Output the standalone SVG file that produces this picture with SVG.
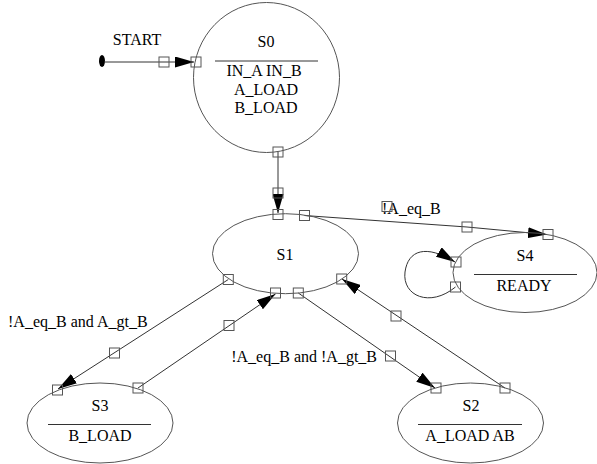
<svg xmlns="http://www.w3.org/2000/svg" width="597" height="464" viewBox="0 0 597 464">
<style>
  .st { fill: none; stroke: #555; stroke-width: 1; }
  .sep { stroke: #333; stroke-width: 1; }
  text { font-family: 'Liberation Serif', 'Times New Roman', 'DejaVu Serif', serif; font-size: 16px; fill: #000; }
  .c { text-anchor: middle; }
  .e { fill: none; stroke: #333; stroke-width: 1; }
  .h { fill: none; stroke: #555; stroke-width: 1; }
</style>
<defs>
  <marker id="arr" viewBox="0 0 19 11" refX="19" refY="5.5" markerWidth="19" markerHeight="11" markerUnits="userSpaceOnUse" orient="auto">
    <path d="M0,0 L19,5.5 L0,11 z" fill="#000"/>
  </marker>
</defs>
<rect width="597" height="464" fill="#fff"/>

<g id="connectors" font-family="Liberation Serif, serif" font-size="16">
  <ellipse cx="102" cy="61" rx="3" ry="6" fill="#000"/>
  <line class="e" x1="104" y1="62" x2="194" y2="62" marker-end="url(#arr)"/>
  <line class="e" x1="278" y1="152" x2="278" y2="213" marker-end="url(#arr)"/>
  <polyline class="e" points="304.5,215.5 467,227 547,234.5" marker-end="url(#arr)"/>
  <path class="e" d="M455.5,287 C430,308 402,296 405,272 C408,250 426,244 455,262" marker-end="url(#arr)"/>
  <line class="e" x1="228.3" y1="279.5" x2="58" y2="389" marker-end="url(#arr)"/>
  <line class="e" x1="138" y1="388" x2="275.5" y2="294" marker-end="url(#arr)"/>
  <line class="e" x1="298.3" y1="293" x2="435" y2="388" marker-end="url(#arr)"/>
  <line class="e" x1="505" y1="388" x2="342" y2="279" marker-end="url(#arr)"/>
  <text class="c" x="137" y="45">START</text>
  <text x="382" y="214">!A_eq_B</text>
  <text x="8" y="327">!A_eq_B and A_gt_B</text>
  <text x="377" y="362" text-anchor="end">!A_eq_B and !A_gt_B</text>
</g>

<g id="S0" font-family="Liberation Serif, serif" font-size="16">
  <ellipse class="st" cx="266.5" cy="77.5" rx="73" ry="75"/>
  <text class="c" x="266" y="47">S0</text>
  <line class="sep" x1="215" y1="61" x2="318" y2="61"/>
  <text class="c" x="264" y="76">IN_A IN_B</text>
  <text class="c" x="266" y="95">A_LOAD</text>
  <text class="c" x="266" y="113">B_LOAD</text>
</g>

<g id="S1" font-family="Liberation Serif, serif" font-size="16">
  <ellipse class="st" cx="285.5" cy="253.7" rx="73" ry="40"/>
  <text class="c" x="285" y="259.5">S1</text>
</g>

<g id="S4" font-family="Liberation Serif, serif" font-size="16">
  <ellipse class="st" cx="525" cy="272.5" rx="72" ry="40"/>
  <text class="c" x="525" y="260.5">S4</text>
  <line class="sep" x1="474" y1="274.5" x2="577" y2="274.5"/>
  <text class="c" x="524" y="290.5">READY</text>
</g>

<g id="S3" font-family="Liberation Serif, serif" font-size="16">
  <ellipse class="st" cx="100" cy="423" rx="73" ry="40"/>
  <text class="c" x="100" y="411">S3</text>
  <line class="sep" x1="48" y1="424.5" x2="151" y2="424.5"/>
  <text class="c" x="100" y="440.5">B_LOAD</text>
</g>

<g id="S2" font-family="Liberation Serif, serif" font-size="16">
  <ellipse class="st" cx="470.5" cy="423" rx="73" ry="40"/>
  <text class="c" x="471" y="411">S2</text>
  <line class="sep" x1="418" y1="424.5" x2="522" y2="424.5"/>
  <text class="c" x="470" y="440.5">A_LOAD AB</text>
</g>

<g id="handles">
  <rect class="h" x="159" y="57" width="10" height="10"/>
  <rect class="h" x="191" y="57" width="10" height="10"/>
  <rect class="h" x="273" y="147" width="10" height="10"/>
  <rect class="h" x="273" y="188" width="10" height="10"/>
  <rect class="h" x="273" y="209.5" width="10" height="10"/>
  <rect class="h" x="299.5" y="210.5" width="10" height="10"/>
  <rect class="h" x="462" y="222" width="10" height="10"/>
  <rect class="h" x="543" y="229.5" width="10" height="10"/>
  <rect class="h" x="382" y="201.5" width="10" height="10"/>
  <rect class="h" x="451" y="257" width="10" height="10"/>
  <rect class="h" x="450.5" y="282" width="10" height="10"/>
  <rect class="h" x="223.3" y="274.5" width="10" height="10"/>
  <rect class="h" x="109.5" y="348" width="10" height="10"/>
  <rect class="h" x="52.5" y="385" width="10" height="10"/>
  <rect class="h" x="133" y="383" width="10" height="10"/>
  <rect class="h" x="224" y="320.5" width="10" height="10"/>
  <rect class="h" x="270.5" y="288" width="10" height="10"/>
  <rect class="h" x="293.3" y="288" width="10" height="10"/>
  <rect class="h" x="385.5" y="351" width="10" height="10"/>
  <rect class="h" x="431" y="383" width="10" height="10"/>
  <rect class="h" x="500" y="383" width="10" height="10"/>
  <rect class="h" x="391" y="311" width="10" height="10"/>
  <rect class="h" x="336.7" y="274" width="10" height="10"/>
</g>
</svg>
